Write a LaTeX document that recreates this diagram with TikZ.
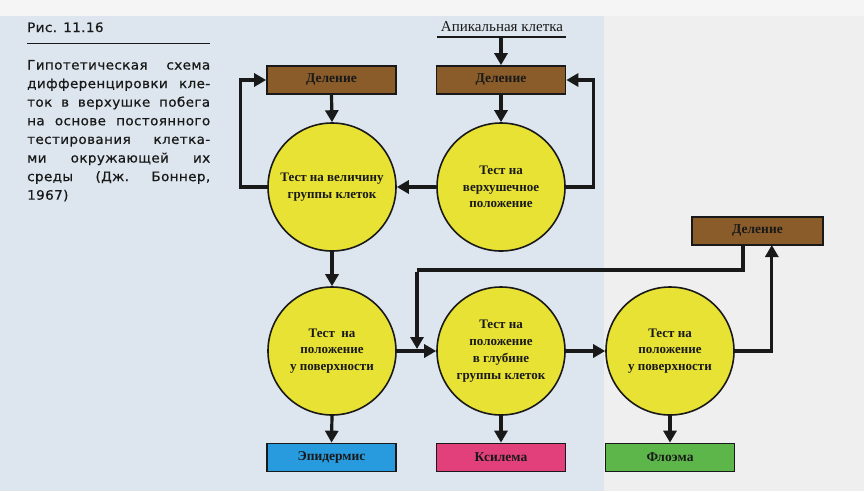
\documentclass[tikz,border=0pt]{standalone}
\usepackage{fontspec}
\usetikzlibrary{arrows.meta}
\newfontfamily\diagfont{Liberation Serif}
\newfontfamily\capfont[FakeStretch=1.04,LetterSpace=3,FakeBold=0.6]{DejaVu Sans}
\definecolor{bgout}{RGB}{238,239,238}
\definecolor{bgtop}{RGB}{244,245,244}
\definecolor{panel}{RGB}{221,230,238}
\definecolor{cyel}{RGB}{232,226,52}
\definecolor{cbrown}{RGB}{138,92,42}
\definecolor{cblue}{RGB}{40,155,222}
\definecolor{cpink}{RGB}{226,64,122}
\definecolor{cgreen}{RGB}{92,182,74}
\definecolor{ink}{RGB}{25,25,25}
\tikzset{
  circ/.style={circle, minimum size=128pt, inner sep=0pt, fill=cyel, draw=ink, line width=1.6pt,
    align=center, text=ink, font=\diagfont\bfseries\fontsize{13}{16.8}\selectfont},
  box/.style={rectangle, minimum width=129pt, minimum height=28pt, inner sep=0pt, draw=ink, line width=1.7pt,
    text=ink, font=\diagfont\bfseries\fontsize{13.5}{15}\selectfont},
  arr/.style={draw=ink, line width=3.2pt, -{Triangle[length=12pt,width=13pt]}},
  ln/.style={draw=ink, line width=3.2pt},
  capline/.style={anchor=base west, inner sep=0pt, text=ink, font=\capfont\fontsize{13}{15}\selectfont}
}
\begin{document}
\begin{tikzpicture}[x=1pt,y=-1pt]
\useasboundingbox (0,0) rectangle (864,491);
\fill[bgout] (0,0) rectangle (864,491);
\fill[bgtop] (0,0) rectangle (864,16);
\fill[panel] (0,16) rectangle (604,491);
% caption
\node[capline] (fig) at (27,32) {Рис. 11.16};
\draw[ink, line width=1pt] (27,43) -- (210,43);
\node[capline] (cap1) at (27,69.5) {\hbox to 183pt{Гипотетическая\hfill схема}};
\node[capline] (cap2) at (27,88.1) {\hbox to 183pt{дифференцировки\hfill кле-}};
\node[capline] (cap3) at (27,106.7) {\hbox to 183pt{ток\hfill в\hfill верхушке\hfill побега}};
\node[capline] (cap4) at (27,125.3) {\hbox to 183pt{на\hfill основе\hfill постоянного}};
\node[capline] (cap5) at (27,143.9) {\hbox to 183pt{тестирования\hfill клетка-}};
\node[capline] (cap6) at (27,162.5) {\hbox to 183pt{ми\hfill окружающей\hfill их}};
\node[capline] (cap7) at (27,181.1) {\hbox to 183pt{среды\hfill (Дж.\hfill Боннер,}};
\node[capline] (cap8) at (27,199.7) {1967)};
% apical
\node[anchor=base, inner sep=0pt, text=ink, font=\diagfont\fontsize{15}{17}\selectfont] (apt) at (502,31) {Апикальная клетка};
\coordinate (ul) at (437,37);
\coordinate (ur) at (566,37);
\coordinate (um) at (501,37);
\draw[ink, line width=1.2pt] (ul) -- (ur);
% boxes
\node[box, fill=cbrown] (d1) at (331.5,80) {Деление};
\node[box, fill=cbrown] (d2) at (501,80) {Деление};
\node[box, fill=cbrown, minimum width=131pt] (d3) at (757.5,231) {Деление};
\node[box, fill=cblue] (ep) at (331.5,457.5) {Эпидермис};
\node[box, fill=cpink] (ks) at (501,457.5) {Ксилема};
\node[box, fill=cgreen] (fl) at (670,457.5) {Флоэма};
% circles
\node[circ] (c1) at (332,187) {Тест на величину\\группы клеток};
\node[circ] (c2) at (501,187) {Тест на\\верхушечное\\положение};
\node[circ] (c3) at (332,351) {Тест\ \ на\\положение\\у поверхности};
\node[circ] (c4) at (501,351) {Тест на\\положение\\в глубине\\группы клеток};
\node[circ] (c5) at (670,351) {Тест на\\положение\\у поверхности};
% connectors
\draw[arr] (um) -- (d2.north);
\draw[arr] (d1.south) -- (c1.north);
\draw[arr] (d2.south) -- (c2.north);
\draw[arr] (c2.west) -- (c1.east);
\draw[arr] (c1.west) -- ++(-27,0) |- (d1.west);
\draw[arr] (c2.east) -- ++(28,0) |- (d2.east);
\draw[arr] (c1.south) -- (c3.north);
\draw[arr] (c3.east) -- (c4.west);
\draw[arr] (c4.east) -- (c5.west);
\coordinate (j1) at (743,270);
\coordinate (j2) at (417,270);
\coordinate (j3) at (417,349);
\draw[ln] (d3.south -| j1) -- (j1) -- (j2);
\draw[arr] ([yshift=-1.6pt]j2) -- (j3);
\draw[arr] (c5.east) -- ++(37,0) -- ++(0,-106);
\draw[arr] (c3.south) -- (ep.north);
\draw[arr] (c4.south) -- (ks.north);
\draw[arr] (c5.south) -- (fl.north);
\end{tikzpicture}
\end{document}
